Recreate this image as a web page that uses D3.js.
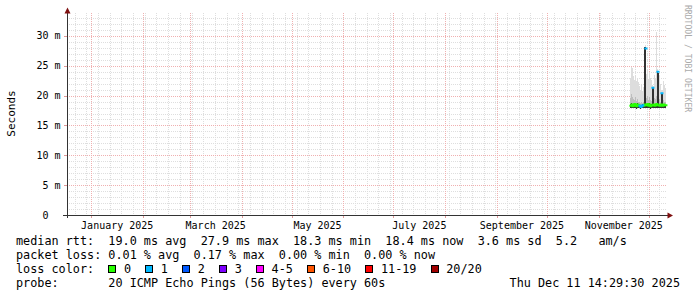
<!DOCTYPE html>
<html>
<head>
<meta charset="utf-8">
<script src="https://cdn.jsdelivr.net/npm/d3@7/dist/d3.min.js"></script>
<style>
body { margin: 0; background: #fff; }
text { font-family: "DejaVu Sans Mono", monospace; white-space: pre; }
</style>
</head>
<body>
<svg id="chart" width="697" height="297"></svg>
<script>
// smokeping detail graph, last ~360 days
const endTime = new Date("2025-12-11T14:29:30Z");
const spanDays = 359.5;
const firstSample = new Date("2025-11-19T23:00:00Z");
const stepHours = 14.4;

// one consolidated sample per pixel column (ms)
const medianMs = [18.3,18.5,18.2,18.4,18.6,18.3,18.2,18.5,18.4,18.3,18.1,18.2,18.4,18.3,18.5,27.9,18.4,18.6,
                  18.3,18.5,18.2,18.4,21.3,18.5,18.3,18.4,18.6,24.0,18.4,18.3,18.5,20.4,18.3,18.5,18.4,18.4];
const lossIdx  = [0,0,0,0,0,0,0,0,0,1,1,1,1,0,0,1,0,0,
                  0,0,0,0,1,0,0,0,0,1,0,0,0,1,0,0,0,0];
const smokeLo  = [17.9,18.0,17.9,17.9,18.0,17.9,17.8,18.0,17.9,17.9,17.8,17.9,17.9,17.9,18.0,18.0,17.9,18.0,
                  17.9,18.0,17.8,17.9,18.0,18.0,17.9,17.9,18.0,18.0,17.9,17.9,18.0,18.0,17.9,18.0,17.9,17.9];
const smokeHi  = [23.0,24.8,24.6,23.2,22.6,23.4,22.4,23.0,22.2,21.6,21.0,21.8,20.8,21.4,22.0,28.4,23.6,24.3,
                  22.8,24.0,23.0,22.6,21.8,21.6,23.4,23.0,30.6,24.4,23.2,23.2,22.0,20.7,21.0,22.4,21.8,21.2];
const smokeMid = [19.6,20.2,19.8,19.5,19.2,19.7,19.1,19.4,19.0,18.9,18.8,19.0,18.8,18.9,19.3,28.2,19.6,20.0,
                  19.3,19.8,19.2,19.1,21.5,21.3,19.6,19.4,19.9,24.1,23.8,19.4,19.0,20.5,20.4,19.3,19.0,18.9];
const smokeCore= [18.6,18.7,18.6,18.6,18.7,18.6,18.5,18.7,18.6,18.5,18.4,18.5,18.6,18.5,28.2,28.2,18.6,18.7,
                  18.5,18.7,18.4,18.6,21.5,21.3,18.5,18.6,18.7,24.1,23.8,18.5,18.6,20.5,20.4,18.6,18.5,18.5];

const yTicks = [0, 5, 10, 15, 20, 25, 30];
const labelMonths = ["2025-01-01","2025-03-01","2025-05-01","2025-07-01","2025-09-01","2025-11-01"];
const lossNames = ["0","1","2","3","4-5","6-10","11-19","20/20"];
const lossColors = ["#26ff00","#00b8ff","#0059ff","#7e00ff","#ff00ff","#ff5500","#ff0000","#a10000"];

const legendRtt  = "median rtt:  19.0 ms avg  27.9 ms max  18.3 ms min  18.4 ms now  3.6 ms sd  5.2   am/s";
const legendLoss = "packet loss: 0.01 % avg  0.17 % max  0.00 % min  0.00 % now";
const legendProbe = "probe:       20 ICMP Echo Pings (56 Bytes) every 60s";
const stampText = "Thu Dec 11 14:29:30 2025";

const svg = d3.select("#chart");
const x0 = 66.5, x1 = 666.5, yb = 215, yt = 15;
const startTime = new Date(endTime - spanDays * 864e5);

const x = d3.scaleUtc().domain([startTime, endTime]).range([x0, x1]);
const y = d3.scaleLinear().domain([0, 33.5]).range([yb, yt]);

const grid = svg.append("g").attr("shape-rendering", "crispEdges");

// minor grid
d3.range(1, 34).filter(v => v % 5).forEach(v => {
  const yy = Math.round(y(v)) + 0.5;
  grid.append("line").attr("x1", 67).attr("x2", 667).attr("y1", yy).attr("y2", yy)
    .attr("stroke", "#dedede").attr("stroke-dasharray", "1,1");
});
d3.utcSunday.range(startTime, endTime).forEach(d => {
  const xx = Math.round(x(d)) + 0.5;
  grid.append("line").attr("x1", xx).attr("x2", xx).attr("y1", 13).attr("y2", yb)
    .attr("stroke", "#dedede").attr("stroke-dasharray", "1,1");
});
// major grid
d3.range(5, 34, 5).forEach(v => {
  const yy = Math.round(y(v)) + 0.5;
  grid.append("line").attr("x1", 67).attr("x2", 667).attr("y1", yy).attr("y2", yy)
    .attr("stroke", "#f0b0b0").attr("stroke-dasharray", "1,1");
  grid.append("line").attr("x1", 64).attr("x2", 67).attr("y1", yy).attr("y2", yy).attr("stroke", "#e09a9a");
});
d3.utcMonth.range(startTime, endTime).forEach(d => {
  const xx = Math.round(x(d)) + 0.5;
  grid.append("line").attr("x1", xx).attr("x2", xx).attr("y1", 13).attr("y2", yb)
    .attr("stroke", "#f0b0b0").attr("stroke-dasharray", "1,1");
  grid.append("line").attr("x1", xx).attr("x2", xx).attr("y1", yb).attr("y2", yb + 3).attr("stroke", "#e09a9a");
});

// smoke
const samples = medianMs.map((m, i) => ({
  t0: new Date(+firstSample + i * stepHours * 36e5),
  t1: new Date(+firstSample + (i + 1) * stepHours * 36e5),
  med: m, loss: lossIdx[i], lo: smokeLo[i], hi: smokeHi[i], mid: smokeMid[i], core: smokeCore[i]
}));

const smoke = svg.append("g").attr("shape-rendering", "crispEdges");
[["hi", "#dddddd"], ["mid", "#bdbdbd"], ["core", "#323232"]].forEach(([key, col]) => {
  smoke.selectAll(null).data(samples).join("rect")
    .attr("x", d => Math.round(x(d.t0)))
    .attr("width", d => Math.max(1, Math.round(x(d.t1)) - Math.round(x(d.t0))))
    .attr("y", d => y(d[key]))
    .attr("height", d => y(d.lo) - y(d[key]))
    .attr("fill", col);
});

// median line coloured by loss
const pts = samples.flatMap(d => [{t: d.t0, v: d.med, k: d.loss}, {t: d.t1, v: d.med, k: d.loss}]);
lossColors.forEach((col, k) => {
  if (!lossIdx.includes(k)) return;
  const line = d3.line().defined(p => p.k === k).x(p => x(p.t)).y(p => y(p.v));
  svg.append("path").attr("d", line(pts)).attr("fill", "none")
    .attr("stroke", col).attr("stroke-width", 2).attr("stroke-linecap", "square");
});

// axes
svg.append("line").attr("x1", 63).attr("x2", 669).attr("y1", yb + 0.5).attr("y2", yb + 0.5)
  .attr("stroke", "#333").attr("shape-rendering", "crispEdges");
svg.append("line").attr("x1", 67.5).attr("x2", 67.5).attr("y1", yb + 3).attr("y2", 11)
  .attr("stroke", "#333").attr("shape-rendering", "crispEdges");
svg.append("path").attr("d", "M64.5,13.5L67.5,7.5L70.5,13.5Z").attr("fill", "#7f1010");
svg.append("path").attr("d", "M667.5,212.5L673,215.5L667.5,218.5Z").attr("fill", "#7f1010");

// y labels
svg.append("g").selectAll("text").data(yTicks).join("text")
  .attr("x", 60.5).attr("y", d => y(d)).attr("dy", "0.36em")
  .attr("text-anchor", "end").attr("font-size", 10).attr("fill", "#000")
  .text(d => d === 0 ? "0  " : d + " m");

// x labels centred on month
svg.append("g").selectAll("text").data(labelMonths.map(s => new Date(s + "T00:00:00Z"))).join("text")
  .attr("x", d => (x(d) + x(d3.utcMonth.offset(d, 1))) / 2).attr("y", 228.5)
  .attr("text-anchor", "middle").attr("font-size", 10).attr("fill", "#000")
  .text(d => d3.utcFormat("%B %Y")(d));

svg.append("text").attr("transform", "translate(15,113.5) rotate(-90)")
  .attr("text-anchor", "middle").attr("font-size", 11).attr("fill", "#000").text("Seconds");

svg.append("text").attr("transform", "translate(685,5) rotate(90)")
  .attr("font-size", 8.1).attr("fill", "#aaaaaa").text("RRDTOOL / TOBI OETIKER");

// legend
const cw = 7.1, lx = 16, fs = 11.8;
svg.append("text").attr("x", lx).attr("y", 245).attr("font-size", fs).text(legendRtt);
svg.append("text").attr("x", lx).attr("y", 259).attr("font-size", fs).text(legendLoss);
svg.append("text").attr("x", lx).attr("y", 273).attr("font-size", fs).text("loss color:");
svg.append("text").attr("x", lx).attr("y", 287).attr("font-size", fs).text(legendProbe);
svg.append("text").attr("x", 680).attr("y", 287).attr("font-size", fs).attr("text-anchor", "end").text(stampText);

let pos = lx + 13 * cw;
lossNames.forEach((name, k) => {
  svg.append("rect").attr("x", Math.round(pos) + 0.5).attr("y", 265.5).attr("width", 7).attr("height", 7)
    .attr("fill", lossColors[k]).attr("stroke", "#000").attr("shape-rendering", "crispEdges");
  const tx = pos + 2.2 * cw;
  svg.append("text").attr("x", tx).attr("y", 273).attr("font-size", fs).text(name);
  pos = tx + name.length * cw + 2 * cw;
});
</script>
</body>
</html>
